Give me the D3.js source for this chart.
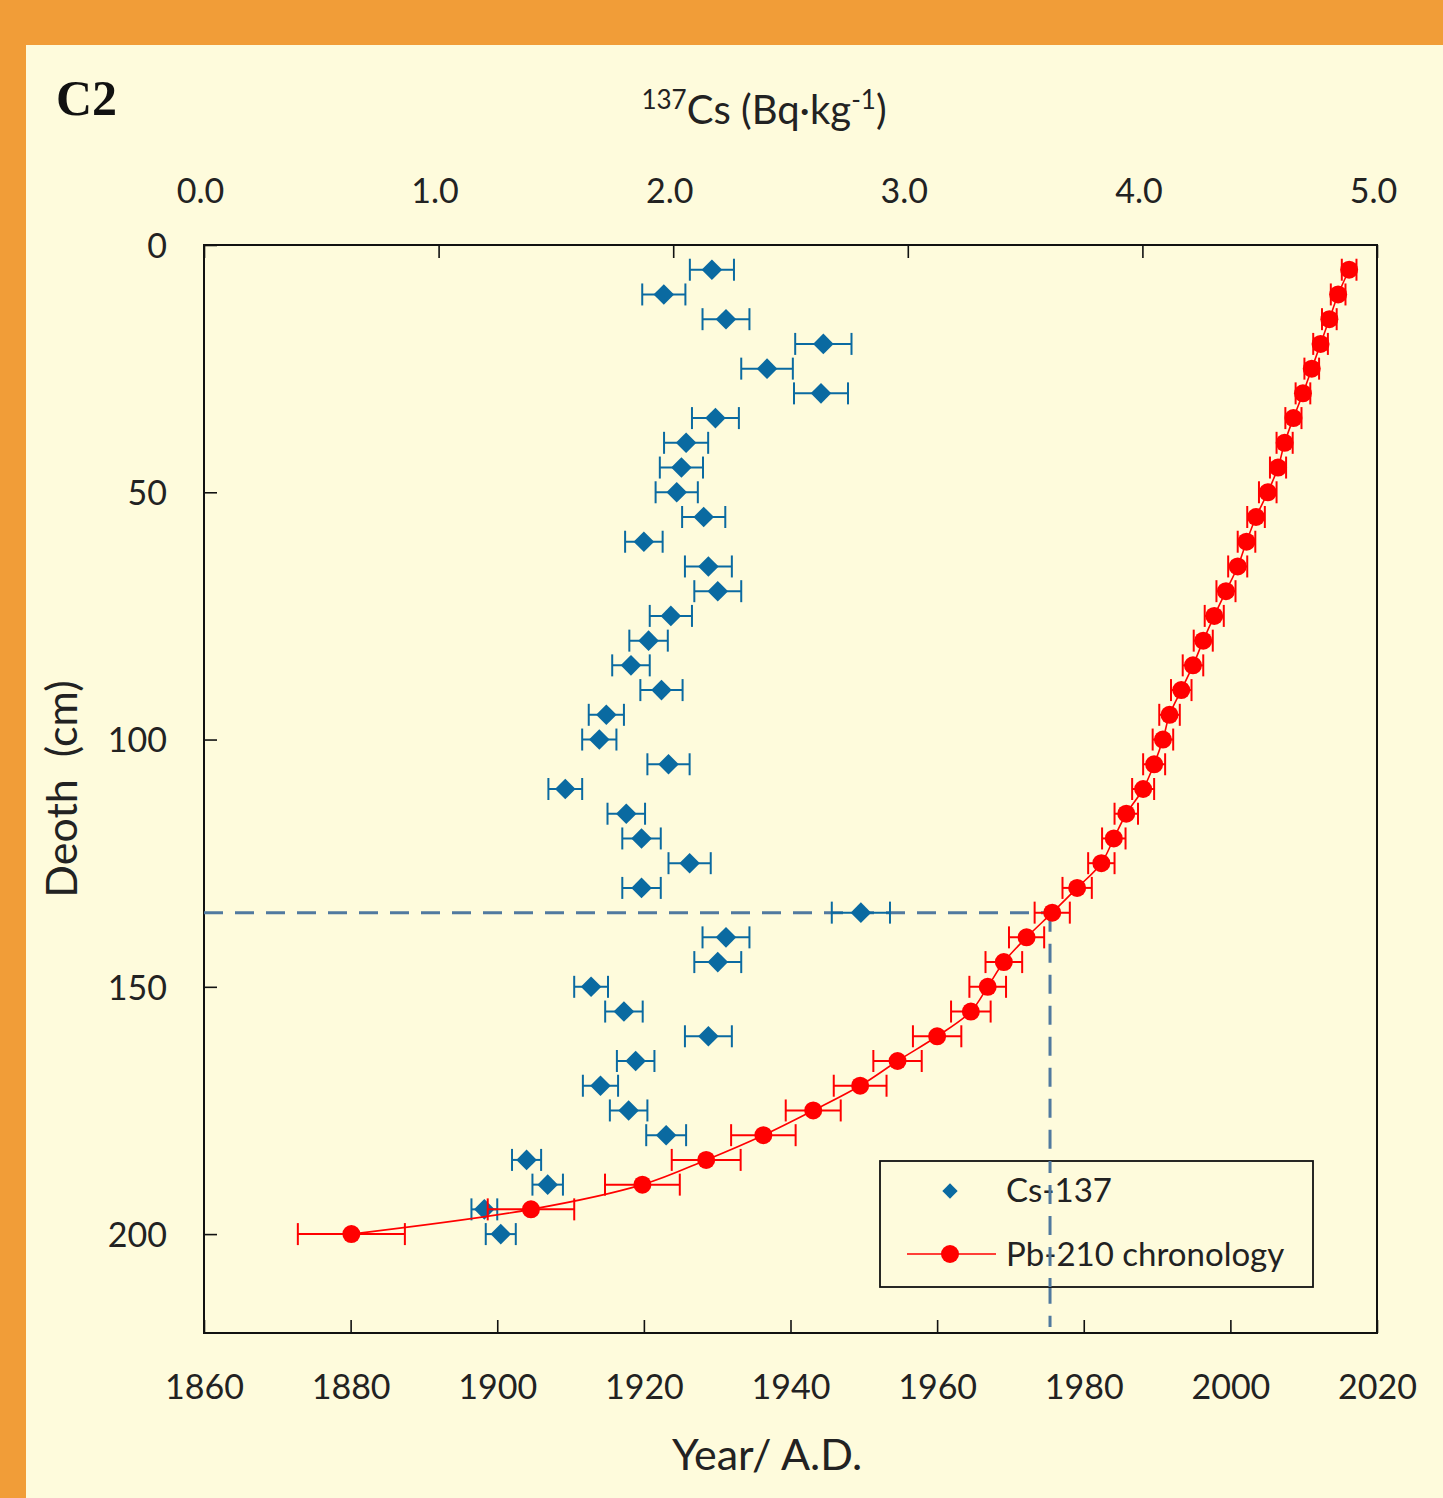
<!DOCTYPE html>
<html><head><meta charset="utf-8">
<script src="https://cdn.jsdelivr.net/npm/d3@7/dist/d3.min.js"></script>
<style>
html,body{margin:0;padding:0;background:#F19D38;}
svg{display:block;}
</style></head>
<body>
<svg id="chart" width="1443" height="1498"></svg>
<script>
// ---- data ----
const depths = [5,10,15,20,25,30,35,40,45,50,55,60,65,70,75,80,85,90,95,100,
                105,110,115,120,125,130,135,140,145,150,155,160,165,170,175,180,185,190,195,200];
const cs137 = [2.165,1.96,2.225,2.64,2.40,2.63,2.18,2.055,2.035,2.015,2.13,1.875,2.15,2.19,1.99,1.895,1.82,1.95,1.715,1.685,
               1.98,1.54,1.80,1.865,2.07,1.865,2.80,2.225,2.19,1.65,1.79,2.15,1.84,1.69,1.81,1.97,1.375,1.465,1.195,1.265];
const cs137Err = [0.094,0.092,0.10,0.12,0.11,0.115,0.10,0.094,0.092,0.09,0.092,0.08,0.10,0.10,0.09,0.082,0.08,0.09,0.075,0.073,
                  0.09,0.072,0.08,0.082,0.09,0.082,0.124,0.10,0.10,0.072,0.08,0.10,0.08,0.075,0.08,0.085,0.062,0.065,0.055,0.064];
const pb210Year = [2016.2,2014.7,2013.5,2012.3,2011.1,2009.9,2008.6,2007.4,2006.5,2005.1,2003.5,2002.2,2001.0,1999.4,1997.8,1996.3,1994.9,1993.3,1991.7,1990.8,
                   1989.6,1988.1,1985.8,1984.1,1982.4,1979.1,1975.7,1972.2,1969.1,1966.9,1964.6,1960.0,1954.6,1949.5,1943.1,1936.3,1928.5,1919.8,1904.6,1880.1];
const pb210Err = [1.0,1.0,1.0,1.0,1.0,1.0,1.1,1.1,1.1,1.2,1.2,1.2,1.3,1.3,1.3,1.3,1.4,1.4,1.4,1.4,
                  1.5,1.5,1.6,1.6,1.8,2.0,2.4,2.4,2.5,2.5,2.7,3.3,3.3,3.6,3.75,4.4,4.7,5.1,5.9,7.3];
const yearTicks = [1860,1880,1900,1920,1940,1960,1980,2000,2020];
const csTicks = [0,1,2,3,4,5];
const depthTicks = [0,50,100,150,200];
const markerDepth = 135, markerYear = 1975.4;
const seriesNames = ["Cs-137","Pb-210 chronology"];

// ---- setup ----
const svg = d3.select("#chart");
const FONT = "Lato, 'Open Sans', sans-serif";
const L = 204, R = 1377, T = 245, B = 1333;
const x = d3.scaleLinear().domain([1860,2020]).range([L,R]);
const xCs = d3.scaleLinear().domain([0,5]).range([L,R]);
const y = d3.scaleLinear().domain([0,220]).range([T,B]);
const csColor = "#0a6aa1", pbColor = "#ff0000", dashColor = "#50799f";

svg.append("rect").attr("x",0).attr("y",0).attr("width",1443).attr("height",1498).attr("fill","#F19D38");
svg.append("rect").attr("x",26).attr("y",45).attr("width",1443-26).attr("height",1498-45).attr("fill","#FEFBDC");

svg.append("text").attr("x",56).attr("y",115).attr("font-family","'Liberation Serif', 'Times New Roman', serif")
  .attr("font-weight","bold").attr("font-size",50).attr("fill","#111").text("C2");

// axes
function styleAxis(g){
  g.select(".domain").remove();
  g.selectAll(".tick line").attr("stroke","#111").attr("stroke-width",1.6);
  g.selectAll("text").attr("font-family",FONT).attr("font-size",34).attr("fill","#222");
}
const gB = svg.append("g").attr("transform",`translate(0,${B})`)
  .call(d3.axisBottom(x).tickValues(yearTicks).tickFormat(d3.format("d")).tickSizeInner(-13).tickSizeOuter(0));
styleAxis(gB);
gB.selectAll("text").attr("y",66).attr("dy",null);

const gT = svg.append("g").attr("transform",`translate(0,${T})`)
  .call(d3.axisTop(xCs).tickValues(csTicks).tickFormat(d3.format(".1f")).tickSizeInner(-13).tickSizeOuter(0));
styleAxis(gT);
gT.selectAll("text").attr("y",-42).attr("dy",null).attr("dx",-4);

const gL = svg.append("g").attr("transform",`translate(${L},0)`)
  .call(d3.axisLeft(y).tickValues(depthTicks).tickSizeInner(-13).tickSizeOuter(0));
styleAxis(gL);
gL.selectAll("text").attr("x",-37).attr("dy","0.36em");

// frame
svg.append("rect").attr("x",L).attr("y",T).attr("width",R-L).attr("height",B-T)
  .attr("fill","none").attr("stroke","#111").attr("stroke-width",2);

// axis titles
const title = svg.append("text").attr("x",764).attr("y",124).attr("text-anchor","middle")
  .attr("font-family",FONT).attr("font-size",40).attr("fill","#222");
title.append("tspan").attr("font-size",26).attr("dy",-15).text("137");
title.append("tspan").attr("dy",15).text("Cs (Bq·kg");
title.append("tspan").attr("font-size",26).attr("dy",-15).text("-1");
title.append("tspan").attr("dy",15).text(")");

svg.append("text").attr("x",767).attr("y",1470).attr("text-anchor","middle")
  .attr("font-family",FONT).attr("font-size",43).attr("fill","#222").text("Year/ A.D.");
svg.append("text").attr("transform","translate(77,789) rotate(-90)").attr("text-anchor","middle")
  .attr("font-family",FONT).attr("font-size",43).attr("fill","#222").attr("xml:space","preserve").text("Deoth  (cm)");

// dashed marker lines
svg.append("line").attr("x1",L).attr("x2",x(markerYear)).attr("y1",y(markerDepth)).attr("y2",y(markerDepth))
  .attr("stroke",dashColor).attr("stroke-width",3).attr("stroke-dasharray","19,12");
svg.append("line").attr("x1",x(markerYear)).attr("x2",x(markerYear)).attr("y1",y(markerDepth)).attr("y2",B-6)
  .attr("stroke",dashColor).attr("stroke-width",3).attr("stroke-dasharray","19,12");

// Cs-137 series
const csData = depths.map((d,i)=>({d, v:cs137[i], e:cs137Err[i]}));
const gCs = svg.append("g");
const capH = 11;
csData.forEach(p=>{
  const cy = y(p.d), x0 = xCs(p.v-p.e), x1 = xCs(p.v+p.e);
  gCs.append("line").attr("x1",x0).attr("x2",x1).attr("y1",cy).attr("y2",cy).attr("stroke",csColor).attr("stroke-width",2);
  gCs.append("line").attr("x1",x0).attr("x2",x0).attr("y1",cy-capH).attr("y2",cy+capH).attr("stroke",csColor).attr("stroke-width",2);
  gCs.append("line").attr("x1",x1).attr("x2",x1).attr("y1",cy-capH).attr("y2",cy+capH).attr("stroke",csColor).attr("stroke-width",2);
});
const diamond = d3.symbol().type(d3.symbolDiamond2).size(270);
gCs.selectAll("path.cs").data(csData).join("path").attr("class","cs")
  .attr("transform",p=>`translate(${xCs(p.v)},${y(p.d)})`).attr("d",diamond).attr("fill",csColor);

// Pb-210 series
const pbData = depths.map((d,i)=>({d, v:pb210Year[i], e:pb210Err[i]}));
const gPb = svg.append("g");
gPb.append("path").datum(pbData)
  .attr("d", d3.line().x(p=>x(p.v)).y(p=>y(p.d)).curve(d3.curveCatmullRom.alpha(0.5)))
  .attr("fill","none").attr("stroke",pbColor).attr("stroke-width",1.6);
pbData.forEach(p=>{
  const cy = y(p.d), x0 = x(p.v-p.e), x1 = x(p.v+p.e);
  gPb.append("line").attr("x1",x0).attr("x2",x1).attr("y1",cy).attr("y2",cy).attr("stroke",pbColor).attr("stroke-width",2);
  gPb.append("line").attr("x1",x0).attr("x2",x0).attr("y1",cy-capH).attr("y2",cy+capH).attr("stroke",pbColor).attr("stroke-width",2);
  gPb.append("line").attr("x1",x1).attr("x2",x1).attr("y1",cy-capH).attr("y2",cy+capH).attr("stroke",pbColor).attr("stroke-width",2);
});
gPb.selectAll("circle").data(pbData).join("circle")
  .attr("cx",p=>x(p.v)).attr("cy",p=>y(p.d)).attr("r",9).attr("fill",pbColor);

// legend
const lg = svg.append("g");
lg.append("rect").attr("x",880).attr("y",1161).attr("width",433).attr("height",126)
  .attr("fill","#FEFBDC").attr("stroke","#111").attr("stroke-width",1.8);
lg.append("path").attr("transform","translate(950,1191)").attr("d",d3.symbol().type(d3.symbolDiamond2).size(150)).attr("fill",csColor);
lg.append("line").attr("x1",907).attr("x2",996).attr("y1",1254).attr("y2",1254).attr("stroke",pbColor).attr("stroke-width",1.6);
lg.append("circle").attr("cx",950).attr("cy",1254).attr("r",9).attr("fill",pbColor);
lg.append("text").attr("x",1006).attr("y",1202).attr("font-family",FONT).attr("font-size",33).attr("fill","#222").text(seriesNames[0]);
lg.append("text").attr("x",1006).attr("y",1266).attr("font-family",FONT).attr("font-size",33).attr("fill","#222").text(seriesNames[1]);

// vertical dashed line passes over legend in reference
svg.append("line").attr("x1",x(markerYear)).attr("x2",x(markerYear)).attr("y1",1161).attr("y2",1287)
  .attr("stroke",dashColor).attr("stroke-width",3).attr("stroke-dasharray","19,12").attr("stroke-dashoffset",7);
</script>
</body></html>
